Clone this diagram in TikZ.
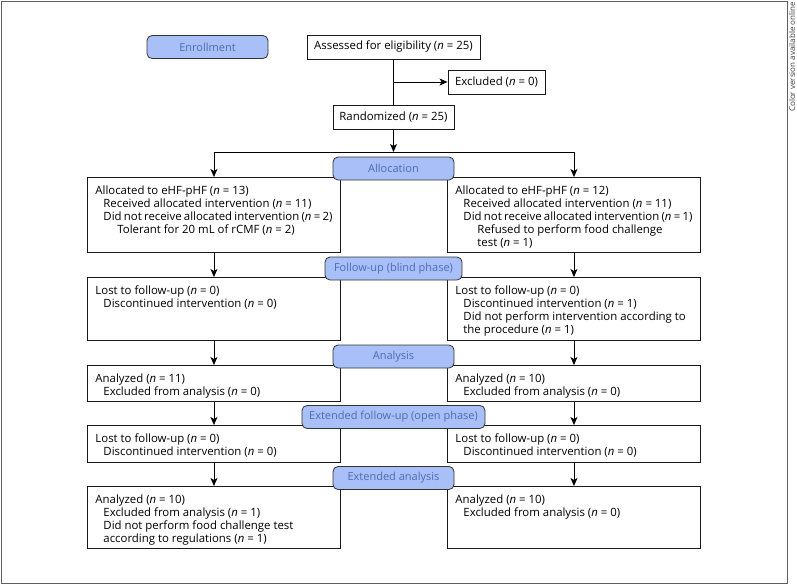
\documentclass[tikz,border=0pt]{standalone}
\usepackage{fontspec}
\setmainfont{Open Sans}
\usetikzlibrary{arrows.meta}

\definecolor{stagefill}{RGB}{168,192,247}
\definecolor{stagetext}{RGB}{76,108,180}
\definecolor{framegray}{RGB}{95,95,95}

\tikzstyle{flowbox}=[%
	draw=black!90, line width=0.9pt, inner sep=0, minimum height=24,
	font=\fontsize{11.4}{13}\selectfont
]
\tikzstyle{listbox}=[%
	flowbox, anchor=north west, inner xsep=8pt, inner ysep=0pt
]
\tikzstyle{stage}=[%
	draw=black!80, line width=0.8pt, fill=stagefill, rounded corners=5pt,
	text=stagetext, minimum width=121, minimum height=23, inner sep=0,
	font=\fontsize{11}{13}\selectfont
]
\tikzstyle{arrow}=[%
	line width=0.9pt, -{Stealth[length=8pt, width=7pt, inset=2pt]}
]

\newcommand{\boxlines}[2]{\parbox[c][#1][t]{237pt}{\vspace*{8.5pt}#2}}
\newcommand{\indA}{\hspace*{8pt}}
\newcommand{\indB}{\hspace*{22pt}}

\begin{document}
\begin{tikzpicture}[x=1pt, y=-1pt]
	\useasboundingbox (0,0) rectangle (797,584);
	\draw[framegray, line width=1pt] (1,1) rectangle (787,583);
	\node[rotate=90, anchor=east, inner sep=0, text=black!75,
		font=\fontsize{8}{9}\selectfont] (note) at (792,2) {Color version available online};

	% enrollment
	\node[stage] (stEnrol) at (207.5,47) {Enrollment};
	\node[flowbox, minimum width=173] (assess) at (393.5,47) {Assessed for eligibility (\textit{n} = 25)};
	\node[flowbox, minimum width=97] (excl) at (496.5,82) {Excluded (\textit{n} = 0)};
	\node[flowbox, minimum width=121] (rand) at (393.5,117) {Randomized (\textit{n} = 25)};
	\coordinate (split) at (393.5,152);

	% left arm
	\node[listbox] (allocL) at (87,177) {\boxlines{75pt}{%
		Allocated to eHF-pHF (\textit{n} = 13)\\
		\indA Received allocated intervention (\textit{n} = 11)\\
		\indA Did not receive allocated intervention (\textit{n} = 2)\\
		\indB Tolerant for 20 mL of rCMF (\textit{n} = 2)}};
	\node[listbox] (followL) at (87,277) {\boxlines{63pt}{%
		Lost to follow-up (\textit{n} = 0)\\
		\indA Discontinued intervention (\textit{n} = 0)}};
	\node[listbox] (analL) at (87,365) {\boxlines{36pt}{%
		Analyzed (\textit{n} = 11)\\
		\indA Excluded from analysis (\textit{n} = 0)}};
	\node[listbox] (extfollowL) at (87,425) {\boxlines{37pt}{%
		Lost to follow-up (\textit{n} = 0)\\
		\indA Discontinued intervention (\textit{n} = 0)}};
	\node[listbox] (extanalL) at (87,486) {\boxlines{62pt}{%
		Analyzed (\textit{n} = 10)\\
		\indA Excluded from analysis (\textit{n} = 1)\\
		\indA Did not perform food challenge test\\
		\indA according to regulations (\textit{n} = 1)}};

	% right arm
	\node[listbox] (allocR) at (447,177) {\boxlines{75pt}{%
		Allocated to eHF-pHF (\textit{n} = 12)\\
		\indA Received allocated intervention (\textit{n} = 11)\\
		\indA Did not receive allocated intervention (\textit{n} = 1)\\
		\indB Refused to perform food challenge\\
		\indB test (\textit{n} = 1)}};
	\node[listbox] (followR) at (447,277) {\boxlines{63pt}{%
		Lost to follow-up (\textit{n} = 0)\\
		\indA Discontinued intervention (\textit{n} = 1)\\
		\indA Did not perform intervention according to\\
		\indA the procedure (\textit{n} = 1)}};
	\node[listbox] (analR) at (447,365) {\boxlines{36pt}{%
		Analyzed (\textit{n} = 10)\\
		\indA Excluded from analysis (\textit{n} = 0)}};
	\node[listbox] (extfollowR) at (447,425) {\boxlines{37pt}{%
		Lost to follow-up (\textit{n} = 0)\\
		\indA Discontinued intervention (\textit{n} = 0)}};
	\node[listbox] (extanalR) at (447,486) {\boxlines{62pt}{%
		Analyzed (\textit{n} = 10)\\
		\indA Excluded from analysis (\textit{n} = 0)}};

	% connectors
	\draw[line width=0.9pt] (assess) -- (rand);
	\draw[arrow] (assess.south |- excl.west) -- (excl.west);
	\draw[arrow] (rand) -- (split);
	\draw[arrow] (split) -| (allocL.north);
	\draw[arrow] (split) -| (allocR.north);
	\draw[arrow] (allocL) -- (followL);
	\draw[arrow] (allocR) -- (followR);
	\draw[arrow] (followL) -- (analL);
	\draw[arrow] (followR) -- (analR);
	\draw[arrow] (analL) -- (extfollowL);
	\draw[arrow] (analR) -- (extfollowR);
	\draw[arrow] (extfollowL) -- (extanalL);
	\draw[arrow] (extfollowR) -- (extanalR);

	% stage labels
	\node[stage] (stAlloc) at (393.5,168.5) {Allocation};
	\node[stage, minimum width=137] (stFollow) at (393.5,268.5) {Follow-up (blind phase)};
	\node[stage] (stAnal) at (393.5,356.5) {Analysis};
	\node[stage, minimum width=183] (stExtFollow) at (393.5,417) {Extended follow-up (open phase)};
	\node[stage] (stExtAnal) at (393.5,478) {Extended analysis};
\end{tikzpicture}
\end{document}
